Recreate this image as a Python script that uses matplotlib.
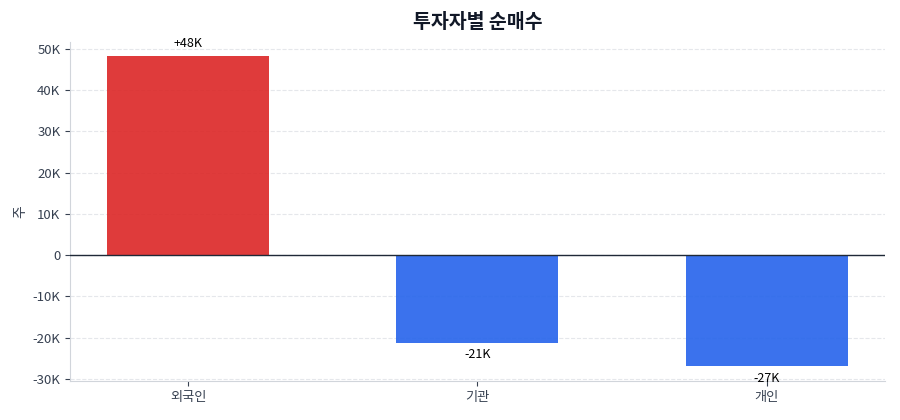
import matplotlib
matplotlib.use("Agg")
import matplotlib.pyplot as plt
from matplotlib.ticker import FuncFormatter

plt.rcParams['font.family'] = ['Noto Sans CJK KR', 'DejaVu Sans']
plt.rcParams['axes.unicode_minus'] = False

# 투자자별 순매수 (주)
investors = ["외국인", "기관", "개인"]
net_buy = [48300, -21200, -26900]
value_labels = ["+48K", "-21K", "-27K"]

fig, ax = plt.subplots(figsize=(9, 4.2), dpi=100)
colors = ["#dc2626" if v >= 0 else "#2563eb" for v in net_buy]
x = range(len(investors))
bars = ax.bar(x, net_buy, width=0.56, color=colors, alpha=0.9, zorder=2)

for b, v, lab in zip(bars, net_buy, value_labels):
    if v >= 0:
        ax.annotate(lab, (b.get_x() + b.get_width() / 2, v), xytext=(0, 4),
                    textcoords="offset points", ha="center", va="bottom", fontsize=9)
    else:
        ax.annotate(lab, (b.get_x() + b.get_width() / 2, v), xytext=(0, -4),
                    textcoords="offset points", ha="center", va="top", fontsize=9)

ax.axhline(0, color="#1f2937", linewidth=1, zorder=3)
ax.set_xticks(list(x))
ax.set_xticklabels(investors)
ax.set_ylim(-30500, 51700)
ax.set_yticks(range(-30000, 50001, 10000))
ax.yaxis.set_major_formatter(FuncFormatter(lambda v, p: "0" if v == 0 else f"{int(v / 1000)}K"))
ax.set_ylabel("주", fontsize=10, color="#374151")
ax.set_title("투자자별 순매수", fontsize=14, fontweight="bold", color="#111827", pad=10)

ax.grid(axis="y", linestyle="--", color="#e5e7eb", linewidth=0.8, zorder=0)
ax.set_axisbelow(True)
for s in ["top", "right"]:
    ax.spines[s].set_visible(False)
for s in ["left", "bottom"]:
    ax.spines[s].set_color("#d1d5db")
ax.tick_params(colors="#374151", labelsize=9.5)

fig.subplots_adjust(left=0.078, right=0.983, top=0.9, bottom=0.093)
fig.savefig("out.png")
